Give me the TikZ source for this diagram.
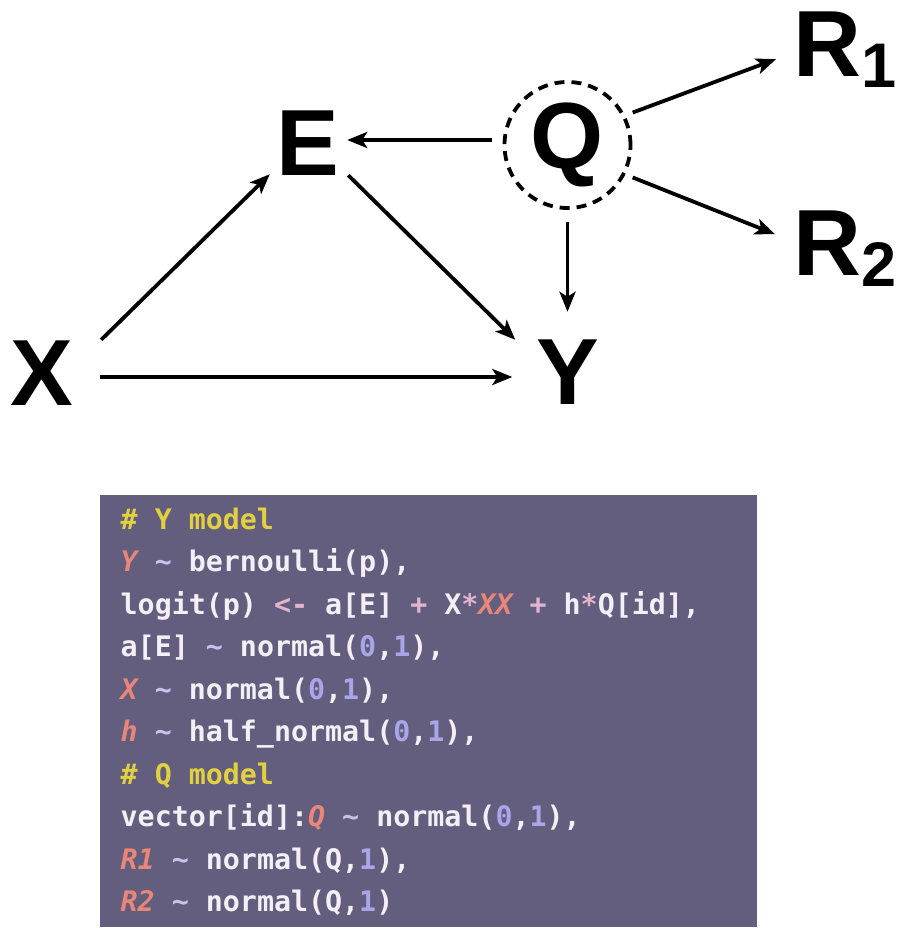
\documentclass[tikz,border=0pt]{standalone}
\usepackage{fontspec}
\usetikzlibrary{arrows.meta}

\newfontfamily\labelfont{Liberation Sans}
\newfontfamily\codefont{DejaVu Sans Mono}

\definecolor{boxgray}{RGB}{99,94,125}
\definecolor{codewhite}{RGB}{242,240,246}
\definecolor{cmtyellow}{RGB}{224,208,66}
\definecolor{varred}{RGB}{232,134,122}
\definecolor{numblue}{RGB}{170,164,232}
\definecolor{oppink}{RGB}{226,180,206}

\newcommand{\ccmt}[1]{{\color{cmtyellow}#1}}
\newcommand{\cvar}[1]{{\color{varred}\itshape #1}}
\newcommand{\cnum}[1]{{\color{numblue}#1}}
\newcommand{\cop}[1]{{\color{oppink}#1}}
\newcommand{\ctil}{{\color{numblue!60!codewhite}\textasciitilde}}

\begin{document}
\begin{tikzpicture}[x=1pt, y=-1pt,
    lbl/.style={font=\labelfont\bfseries\fontsize{94}{94}\selectfont, inner sep=0pt,
      minimum width=64pt, minimum height=70pt},
    sublbl/.style={font=\labelfont\bfseries\fontsize{94}{94}\selectfont, inner sep=0pt, anchor=base west},
    latent/.style={circle, draw=black, line width=3.8pt, dash pattern=on 10pt off 7pt,
      minimum size=126pt, inner sep=0pt, font=\labelfont\bfseries\fontsize{94}{94}\selectfont},
    arr/.style={-{Stealth[length=20pt, width=16pt, inset=5pt]}, line width=3.8pt},
    codebox/.style={fill=boxgray, minimum width=657pt, minimum height=432pt, inner sep=0pt},
    codeline/.style={font=\codefont\bfseries\fontsize{28.3}{42.5}\selectfont, text=codewhite,
      inner sep=0pt, anchor=base west}]
    \useasboundingbox (0,0) rectangle (898,930);

    % dag nodes
    \node(X) [lbl] at (42,373)    {X};
    \node(E) [lbl] at (308,143)   {E};
    \node(Y) [lbl] at (567.5,372) {Y};
    \node(Q) [latent] at (567.5,145) {Q};

    % measurements of Q
    \node(R1) [sublbl] at (793,76)  {R\raisebox{-11pt}{\fontsize{63}{63}\selectfont 1}};
    \node(R2) [sublbl] at (793,275) {R\raisebox{-11pt}{\fontsize{63}{63}\selectfont 2}};

    %%%%% Edges %%%%%
    \draw[arr]([shift={(27,2)}]X.north east) to ([shift={(-6,-4)}]E.south west);
    \draw[arr]([shift={(26,4)}]X.east) to ([shift={(-23,5)}]Y.west);
    \draw[arr]([shift={(8,-3)}]E.south east) to ([shift={(-20,3)}]Y.north west);

    \draw[arr]([shift={(-11,-5)}]Q.west) to ([shift={(7,-3)}]E.east);
    \draw[arr]([shift={(0,12)}]Q.south) to ([shift={(0,-25)}]Y.north);

    \draw[arr]([shift={(9,0)}]Q.30) to ([shift={(-17,10)}]R1.west);
    \draw[arr]([shift={(9,0)}]Q.-30) to ([shift={(-18,-14)}]R2.west);

    %%%%% model code %%%%%
    \node(model) [codebox] at (428.5,711) {};
    \foreach \txt [count=\i from 0] in {
        {\ccmt{\# Y model}},
        {\cvar{Y} \ctil{} bernoulli(p),},
        {logit(p) \cop{<-} a[E] \cop{+} X\cop{*}\cvar{XX} \cop{+} h\cop{*}Q[id],},
        {a[E] \ctil{} normal(\cnum{0},\cnum{1}),},
        {\cvar{X} \ctil{} normal(\cnum{0},\cnum{1}),},
        {\cvar{h} \ctil{} half\_normal(\cnum{0},\cnum{1}),},
        {\ccmt{\# Q model}},
        {vector[id]:\cvar{Q} \ctil{} normal(\cnum{0},\cnum{1}),},
        {\cvar{R1} \ctil{} normal(Q,\cnum{1}),},
        {\cvar{R2} \ctil{} normal(Q,\cnum{1})}}
      \node(line\i) [codeline] at (120.5,{529+42.5*\i}) {\txt};

\end{tikzpicture}
\end{document}
